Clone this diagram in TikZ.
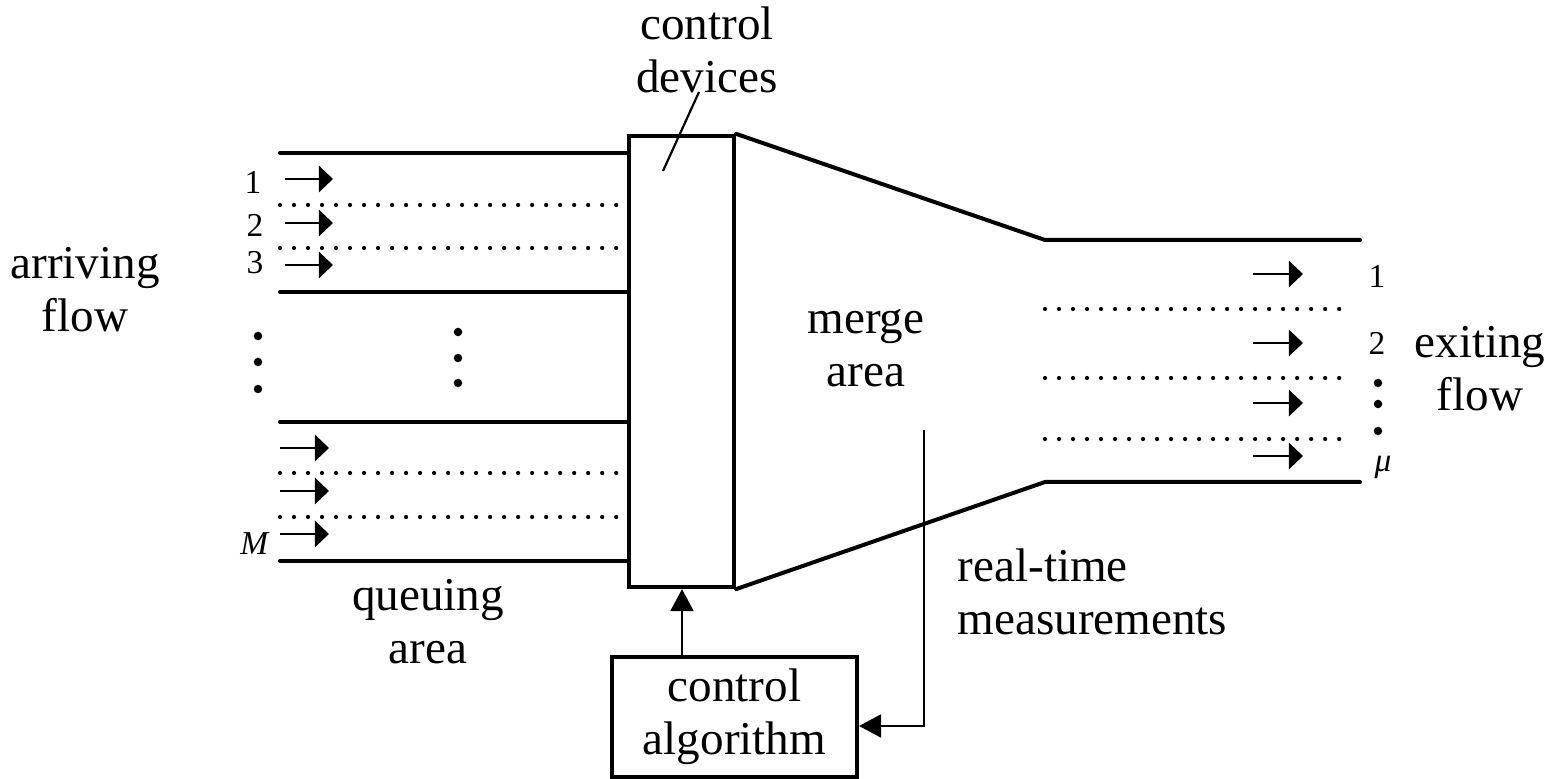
\documentclass[tikz,border=0pt]{standalone}
\usepackage{fontspec}
\setmainfont{Liberation Serif}
\usetikzlibrary{arrows.meta}
\begin{document}
\begin{tikzpicture}[x=0.01cm,y=-0.01cm,
  wall/.style={line width=0.04cm, line cap=round, line join=miter},
  lane/.style={line width=0.042cm, dash pattern=on 0pt off 0.14cm, line cap=round},
  flowarrow/.style={line width=0.024cm, -{Triangle[length=0.14cm,width=0.26cm]}},
  signal/.style={line width=0.022cm, -{Triangle[length=0.22cm,width=0.23cm]}},
  leader/.style={line width=0.022cm},
  lbl/.style={font=\fontsize{13.4}{15.1}\selectfont, align=center, inner sep=0pt},
  idx/.style={font=\fontsize{9.5}{10}\selectfont, inner sep=0pt},
  vdot/.style={circle, fill, inner sep=0pt, minimum size=0.085cm},
  box/.style={draw, line width=0.04cm}
]
\useasboundingbox (0,0) rectangle (1559,779);

% control devices and control algorithm blocks
\node[box, minimum width=1.05cm, minimum height=4.51cm] (dev) at (681.5,361.5) {};
\node[box, lbl, minimum width=2.45cm, minimum height=1.2cm] (alg) at (734.5,717) {control\\algorithm};

% queuing area: lane boundaries
\foreach \y in {153,292,422,561}
  \draw[wall] (280,\y) -- (280,\y -| dev.west);
\foreach \y in {205,248,473,517}
  \draw[lane] (280,\y) -- (617,\y);

% arriving vehicles
\foreach \y in {179,223,265}
  \draw[flowarrow] (285,\y) -- (333,\y);
\foreach \y in {448,491,534}
  \draw[flowarrow] (280,\y) -- (329,\y);
\node[idx] (in1) at (253,182) {1};
\node[idx] (in2) at (255,225) {2};
\node[idx] (in3) at (255,263) {3};
\node[idx] (inM) at (255,544) {\textit{M}};

% vertical ellipses
\foreach \y in {336,362,389} \node[vdot] at (258,\y) {};
\foreach \y in {332,358,383} \node[vdot] at (458,\y) {};
\foreach \y in {383,404,431} \node[vdot] at (1378,\y) {};

% merge area funnel and exit lanes
\coordinate (mtop) at (1045,240);
\coordinate (mbot) at (1045,482);
\draw[wall] (dev.north east) -- (mtop) -- (1360,240);
\draw[wall] (dev.south east) -- (mbot) -- (1360,482);
\foreach \y in {309,378,439}
  \draw[lane] (1045,\y) -- (1353,\y);
\foreach \y in {274,343,403,456}
  \draw[flowarrow] (1253,\y) -- (1303,\y);
\node[idx] (out1) at (1377,276) {1};
\node[idx] (out2) at (1377,343) {2};
\node[idx] (outmu) at (1383,467) {\textit{μ}};

% labels
\node[lbl] (devlbl) at (707,50) {control\\devices};
\coordinate (leadin) at (663,171);
\coordinate (leadout) at (699,92);
\draw[leader] (leadin) -- (leadout);
\node[lbl] (mergelbl) at (866,348) {merge\\area};
\node[lbl, align=left, anchor=north west] (measlbl) at (957,548) {real-time\\measurements};
\node[lbl] (queuelbl) at (428,622) {queuing\\area};
\node[lbl] (inlbl) at (85,290) {arriving\\flow};
\node[lbl] (outlbl) at (1480,369) {exiting\\flow};

% control loop
\coordinate (probe) at (924,430);
\draw[signal] (alg.north -| 682,0) -- (682,0 |- dev.south);
\draw[signal] (probe) |- (alg.east |- 0,726);
\end{tikzpicture}
\end{document}
